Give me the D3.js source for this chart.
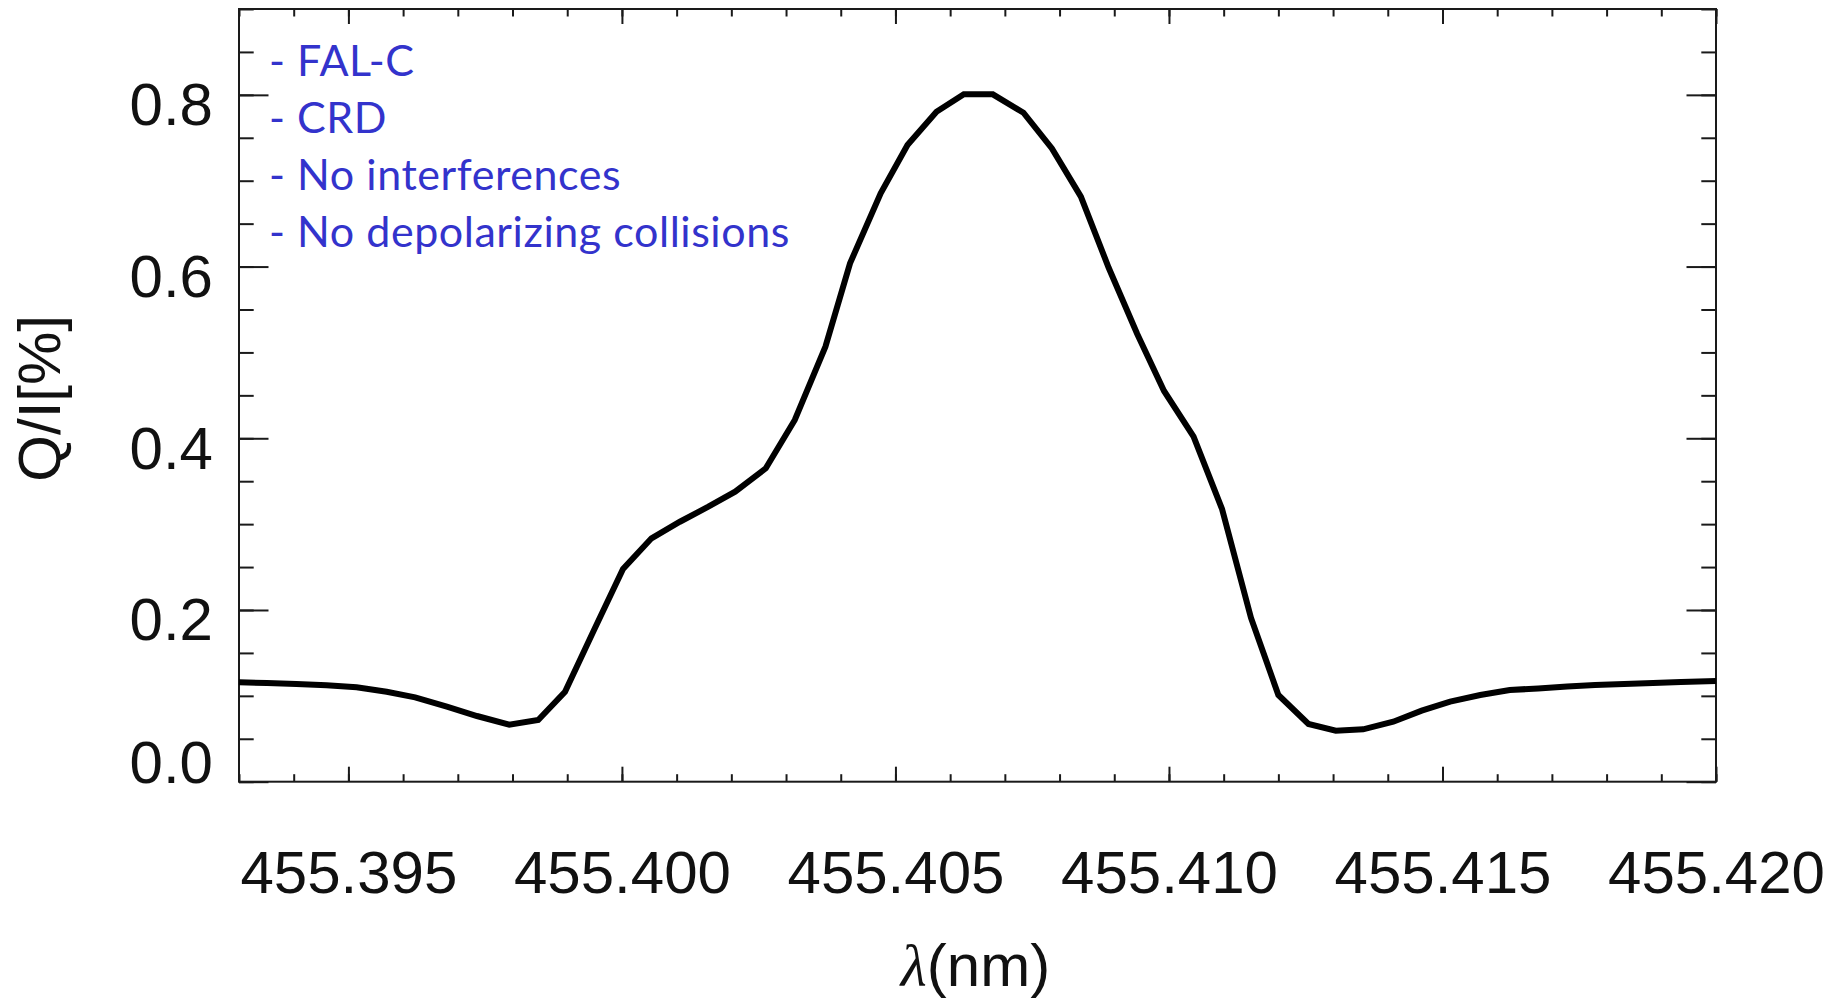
<!DOCTYPE html>
<html>
<head>
<meta charset="utf-8">
<script src="https://cdn.jsdelivr.net/npm/d3@7"></script>
<style>
  html, body { margin: 0; padding: 0; background: #fff; }
  svg { display: block; }
  .axis text { font-family: "Liberation Sans", Arial, Helvetica, sans-serif; font-size: 60px; fill: #111; }
  .note { font-family: Lato, "Open Sans", sans-serif; font-size: 43px; letter-spacing: 0.55px; fill: #3333cc; }
  .title { font-family: "Liberation Sans", Arial, Helvetica, sans-serif; font-size: 60px; fill: #111; }
</style>
</head>
<body>
<div id="chart"></div>
<script>
// Q/I profile across the line — single model run.

const lambda = [
  455.39300, 455.39351, 455.39405, 455.39460, 455.39515, 455.39570, 455.39622,
  455.39680, 455.39735, 455.39794, 455.39847, 455.39896, 455.39949, 455.40002,
  455.40054, 455.40106, 455.40158, 455.40207, 455.40263, 455.40316, 455.40372,
  455.40417, 455.40473, 455.40522, 455.40575, 455.40625, 455.40678, 455.40734,
  455.40786, 455.40839, 455.40890, 455.40942, 455.40991, 455.41045, 455.41097,
  455.41150, 455.41200, 455.41255, 455.41305, 455.41355, 455.41410, 455.41462,
  455.41514, 455.41569, 455.41623, 455.41675, 455.41728, 455.41779, 455.41832,
  455.41885, 455.41936, 455.42000
];
const qOverI = [
  0.1158, 0.1150, 0.1138, 0.1123, 0.1100, 0.1048, 0.0983,
  0.0874, 0.0765, 0.0664, 0.0719, 0.1048, 0.1767, 0.2477,
  0.2835, 0.3028, 0.3203, 0.3378, 0.3650, 0.4213, 0.5067,
  0.6038, 0.6853, 0.7416, 0.7804, 0.8006, 0.8006, 0.7792,
  0.7377, 0.6814, 0.5983, 0.5215, 0.4551, 0.4018, 0.3176,
  0.1907, 0.1010, 0.0672, 0.0594, 0.0610, 0.0699, 0.0827,
  0.0932, 0.1010, 0.1068, 0.1086, 0.1109, 0.1126, 0.1138,
  0.1150, 0.1161, 0.1173
];

const xMajorTicks = [455.395, 455.400, 455.405, 455.410, 455.415, 455.420];
const yMajorTicks = [0.0, 0.2, 0.4, 0.6, 0.8];
const notes = ["- FAL-C", "- CRD", "- No interferences", "- No depolarizing collisions"];

const width = 1843, height = 1000;
const margin = { top: 9, right: 127, bottom: 218.3, left: 239 };

const x = d3.scaleLinear().domain([455.393, 455.420]).range([margin.left, width - margin.right]);
const y = d3.scaleLinear().domain([0, 0.9]).range([height - margin.bottom, margin.top]);

// minor ticks every 0.001 nm and every 0.05 in Q/I
const xMinor = d3.range(0, 28).map(i => +(455.393 + i * 0.001).toFixed(3));
const yMinor = d3.range(0, 19).map(i => +(i * 0.05).toFixed(2));

const svg = d3.select("#chart").append("svg")
  .attr("width", width).attr("height", height)
  .attr("viewBox", `0 0 ${width} ${height}`);

function drawAxis(axis, transform) {
  const g = svg.append("g").attr("class", "axis").attr("transform", transform).call(axis);
  g.select(".domain").remove();
  g.selectAll(".tick line").attr("stroke", "#1a1a1a").attr("stroke-width", 2);
  return g;
}

const x0 = x.range()[0], x1 = x.range()[1];
const y0 = y.range()[0], y1 = y.range()[1];

// ticks point inward on all four sides
drawAxis(d3.axisBottom(x).tickValues(xMinor).tickSize(-7.5).tickFormat(""), `translate(0,${y0})`);
drawAxis(d3.axisBottom(x).tickValues(xMajorTicks).tickSize(-15).tickPadding(69).tickFormat(d3.format(".3f")), `translate(0,${y0})`);
drawAxis(d3.axisTop(x).tickValues(xMinor).tickSize(-7.5).tickFormat(""), `translate(0,${y1})`);
drawAxis(d3.axisTop(x).tickValues(xMajorTicks).tickSize(-15).tickFormat(""), `translate(0,${y1})`);

drawAxis(d3.axisLeft(y).tickValues(yMinor).tickSize(-14.7).tickFormat(""), `translate(${x0},0)`);
const gLeft = drawAxis(d3.axisLeft(y).tickValues(yMajorTicks).tickSize(-29.5).tickPadding(26).tickFormat(d3.format(".1f")), `translate(${x0},0)`);
// labels sit a little below their ticks; the bottom one is kept inside the frame
gLeft.selectAll(".tick text").attr("dy", d => d === 0 ? "1px" : "30px");

drawAxis(d3.axisRight(y).tickValues(yMinor).tickSize(-14.7).tickFormat(""), `translate(${x1},0)`);
drawAxis(d3.axisRight(y).tickValues(yMajorTicks).tickSize(-29.5).tickFormat(""), `translate(${x1},0)`);

svg.append("rect")
  .attr("x", x0).attr("y", y1)
  .attr("width", x1 - x0).attr("height", y0 - y1)
  .attr("fill", "none").attr("stroke", "#1a1a1a").attr("stroke-width", 2);

const line = d3.line().x(d => x(d[0])).y(d => y(d[1]));
svg.append("path")
  .datum(d3.zip(lambda, qOverI))
  .attr("d", line)
  .attr("fill", "none")
  .attr("stroke", "#000")
  .attr("stroke-width", 6);

svg.append("g").selectAll("text")
  .data(notes)
  .join("text")
  .attr("class", "note")
  .attr("x", x0 + 30)
  .attr("y", (d, i) => 76 + i * 57)
  .text(d => d);

svg.append("text")
  .attr("class", "title")
  .attr("transform", `translate(60,${(y0 + y1) / 2 + 3}) rotate(-90)`)
  .attr("text-anchor", "middle")
  .text("Q/I[%]");

const xt = svg.append("text")
  .attr("class", "title")
  .attr("x", (x0 + x1) / 2 - 2)
  .attr("y", 986)
  .attr("text-anchor", "middle");
xt.append("tspan").attr("font-family", "'Liberation Serif', 'Times New Roman', serif").attr("font-style", "italic").text("λ");
xt.append("tspan").text("(nm)");
</script>
</body>
</html>
